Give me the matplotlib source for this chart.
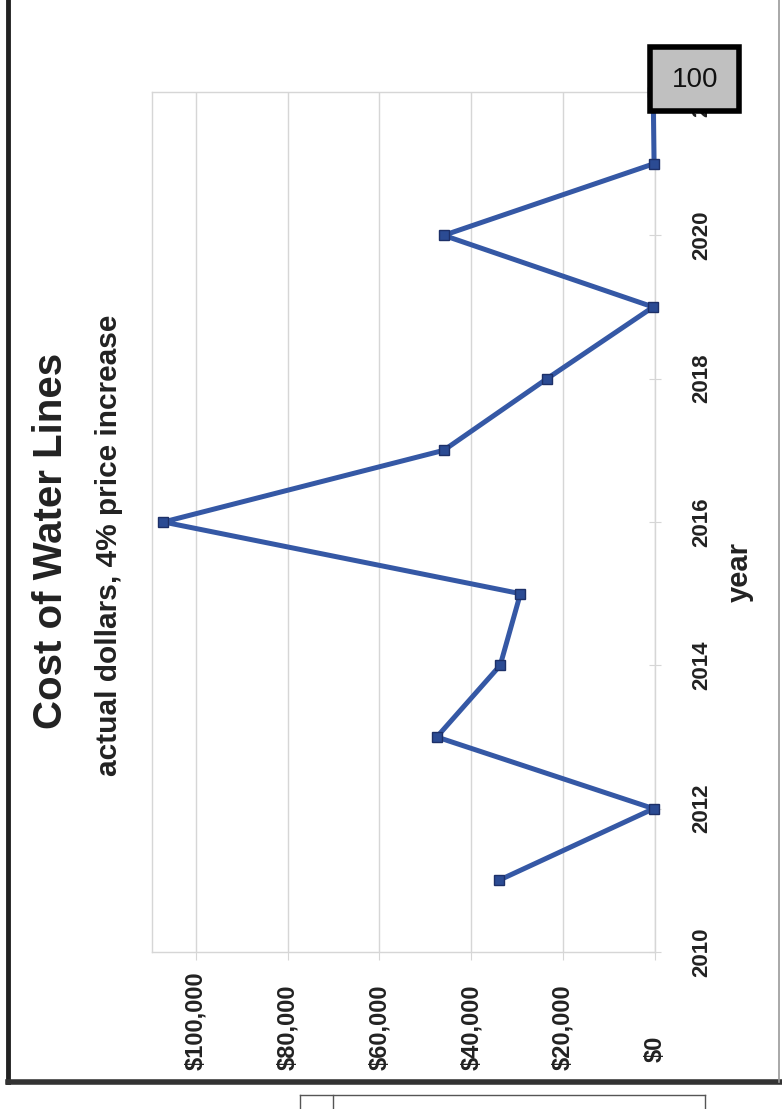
import matplotlib
matplotlib.use('Agg')
import matplotlib.pyplot as plt
from matplotlib.patches import Rectangle
from matplotlib.lines import Line2D
import matplotlib.transforms as mtransforms

plt.rcParams['font.family'] = ['Liberation Sans', 'DejaVu Sans']

years = [2011, 2012, 2013, 2014, 2015, 2016, 2017, 2018, 2019, 2020, 2021, 2022]
costs = [34000, 300, 47500, 33700, 29300, 107000, 46000, 23500, 400, 46000, 200, 400]

year_ticks = [2010, 2012, 2014, 2016, 2018, 2020, 2022]
value_ticks = [0, 20000, 40000, 60000, 80000, 100000]
value_labels = ['$0', '$20,000', '$40,000', '$60,000', '$80,000', '$100,000']

W, H = 782, 1109
fig = plt.figure(figsize=(W / 100, H / 100), dpi=100)
fig.patch.set_facecolor('white')

# chart is printed sideways: value runs right->left, year runs bottom->top
left, right, top, bottom = 152, 655, 92, 952
ax = fig.add_axes([left / W, 1 - bottom / H, (right - left) / W, (bottom - top) / H])

grid_col = '#d6d6d6'
ax.plot(costs, years, color='#3558a5', lw=3.6, marker='s', ms=7,
        mfc='#2b4b93', mec='#1d3068', mew=1, zorder=3, clip_on=False)

ax.set_xlim(109500, 0)
ax.set_ylim(2010, 2022)
ax.set_xticks(value_ticks)
ax.set_yticks(year_ticks)
ax.xaxis.grid(True, color=grid_col, lw=1)
ax.yaxis.grid(False)
for s in ax.spines.values():
    s.set_color(grid_col)
    s.set_linewidth(1)

ax.tick_params(axis='x', bottom=True, top=False, labelbottom=False,
               direction='out', length=6, color=grid_col)
ax.yaxis.tick_right()
ax.tick_params(axis='y', right=True, left=False, labelright=True, labelleft=False,
               direction='inout', length=8, color=grid_col,
               labelrotation=90, labelsize=16, pad=22)
for lab in ax.get_yticklabels():
    lab.set_fontweight('bold')
    lab.set_color('#222222')
    lab.set_va('center')

# value labels, rotated, aligned at their start (bottom)
trans = mtransforms.blended_transform_factory(ax.transData, ax.transAxes)
for v, lab in zip(value_ticks, value_labels):
    dy = -0.137 if v else -0.128
    ax.text(v, dy, lab, transform=trans, rotation=90, ha='center', va='bottom',
            fontsize=17, fontweight='bold', color='#222222')

# titles
fig.text(62 / W, 1 - 541 / H, 'Cost of Water Lines', rotation=90, rotation_mode='anchor',
         ha='center', va='baseline', fontsize=29, fontweight='bold', color='#222222')
fig.text(117 / W, 1 - 545 / H, 'actual dollars, 4% price increase', rotation=90,
         rotation_mode='anchor', ha='center', va='baseline', fontsize=21.5,
         fontweight='bold', color='#222222')
fig.text(748 / W, 1 - 572 / H, 'year', rotation=90, rotation_mode='anchor',
         ha='center', va='baseline', fontsize=21, fontweight='bold', color='#222222')

# page frame of the scan
fig.add_artist(Line2D([8 / W, 8 / W], [1, 1 - 1082 / H], color='#222222', lw=3.5))
fig.add_artist(Line2D([8 / W, 1], [1 - 1082 / H, 1 - 1082 / H], color='#333333', lw=4))
fig.add_artist(Line2D([779 / W, 779 / W], [1, 1 - 1082 / H], color='#999999', lw=1.2))
fig.add_artist(Line2D([300 / W, 705 / W], [1 - 1095 / H, 1 - 1095 / H], color='#555555', lw=1))
fig.add_artist(Line2D([300 / W, 300 / W], [1 - 1095 / H, 0], color='#555555', lw=1))
fig.add_artist(Line2D([333 / W, 333 / W], [1 - 1095 / H, 0], color='#555555', lw=1))
fig.add_artist(Line2D([705 / W, 705 / W], [1 - 1095 / H, 0], color='#555555', lw=1))

# page-number sticker
fig.add_artist(Rectangle((650 / W, 1 - 111 / H), 89 / W, 64 / H, transform=fig.transFigure,
                         facecolor='#c0c0c0', edgecolor='black', lw=4, zorder=10))
fig.text(695 / W, 1 - 80 / H, '100', ha='center', va='center', fontsize=20,
         color='#111111', zorder=11)

fig.savefig('out.png', dpi=100)
